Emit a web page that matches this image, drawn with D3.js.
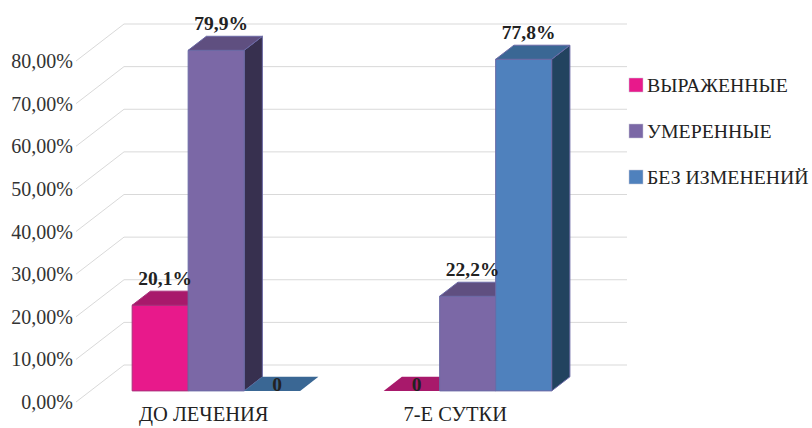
<!DOCTYPE html>
<html>
<head>
<meta charset="utf-8">
<script src="https://cdnjs.cloudflare.com/ajax/libs/d3/7.8.5/d3.min.js"></script>
<style>
  body { margin: 0; background: #fff; }
</style>
</head>
<body>
<svg id="chart" width="812" height="428"></svg>
<script>
// data
var categories = ["ДО ЛЕЧЕНИЯ", "7-Е СУТКИ"];
var seriesNames = ["ВЫРАЖЕННЫЕ", "УМЕРЕННЫЕ", "БЕЗ ИЗМЕНЕНИЙ"];
var vyrazhennye = [20.1, 0];
var umerennye = [79.9, 22.2];
var bezIzmeneniy = [0, 77.8];
var yTicks = [0, 10, 20, 30, 40, 50, 60, 70, 80];

var seriesValues = [vyrazhennye, umerennye, bezIzmeneniy];
var front = ["#e8198b", "#7b68a6", "#4f81bd"];
var top_ = ["#a8196b", "#5f4f80", "#3a6794"];
var side = ["#7a1250", "#37304f", "#22435f"];
var edge = ["#a8307a", "#6b6aa6", "#6b6aa6"];
var FONT = "Liberation Serif, Times New Roman, serif";

var svg = d3.select("#chart");

// 3D frame: front plane and how far the back wall is shifted
var x0 = 76, plotW = 503;
var DX = 48, DY = 37;
var d1 = 0.3, d2 = 0.68; // bar front / back depth

var y = d3.scaleLinear().domain([0, 80]).range([402, 61]);
var x = d3.scaleBand().domain(categories).range([x0, x0 + plotW])
          .paddingInner(0.332).paddingOuter(0.166);
var xs = d3.scaleBand().domain(d3.range(seriesNames.length)).range([0, x.bandwidth()]);

// gridlines: diagonal on the side wall + horizontal on the back wall
var grid = svg.append("g");
yTicks.forEach(function(t) {
  grid.append("line")
      .attr("x1", x0).attr("y1", y(t))
      .attr("x2", x0 + DX).attr("y2", y(t) - DY)
      .attr("stroke", "#d9d9d9").attr("stroke-width", 1);
  grid.append("line")
      .attr("x1", x0 + DX).attr("y1", y(t) - DY)
      .attr("x2", x0 + plotW + DX).attr("y2", y(t) - DY)
      .attr("stroke", "#d9d9d9").attr("stroke-width", 1);
});

// y tick labels
svg.append("g").selectAll("text")
   .data(yTicks).enter().append("text")
   .attr("x", 73).attr("y", function(t) { return y(t); })
   .attr("dy", "0.35em")
   .attr("text-anchor", "end")
   .style("font-family", FONT).attr("font-size", 20).attr("fill", "#333")
   .text(function(t) { return t.toFixed(2).replace(".", ",") + "%"; });

// category labels
svg.append("g").selectAll("text")
   .data(categories).enter().append("text")
   .attr("x", function(c) { return x(c) + x.bandwidth() / 2 + 2; })
   .attr("y", 421)
   .attr("text-anchor", "middle")
   .style("font-family", FONT).attr("font-size", 20.5).attr("fill", "#222")
   .text(function(c) { return c; });

function pts(arr) { return arr.map(function(p) { return p.join(","); }).join(" "); }

var bars = svg.append("g");
var labels = [];
categories.forEach(function(c, ci) {
  seriesValues.forEach(function(vals, si) {
    var v = vals[ci];
    var a = x(c) + xs(si), w = xs.bandwidth();
    var ax = d1 * DX, ay = -d1 * DY, bx = d2 * DX, by = -d2 * DY;
    var yt = y(v), yb = y(0);
    if (v > 0) {
      bars.append("polygon")
          .attr("points", pts([[a + w + ax, yt + ay], [a + w + bx, yt + by], [a + w + bx, yb + by], [a + w + ax, yb + ay]]))
          .attr("fill", side[si]).attr("stroke", edge[si]).attr("stroke-width", 1);
      bars.append("polygon")
          .attr("points", pts([[a + ax, yt + ay], [a + w + ax, yt + ay], [a + w + ax, yb + ay], [a + ax, yb + ay]]))
          .attr("fill", front[si]).attr("stroke", edge[si]).attr("stroke-width", 1);
    }
    bars.append("polygon")
        .attr("points", pts([[a + ax, yt + ay], [a + w + ax, yt + ay], [a + w + bx, yt + by], [a + bx, yt + by]]))
        .attr("fill", top_[si]).attr("stroke", v > 0 ? edge[si] : "none").attr("stroke-width", 1);
    labels.push({
      x: a + ax + w / 2 + 5,
      y: v > 0 ? yt + by - 6 : yt + (ay + by) / 2 + 7,
      t: v > 0 ? v.toFixed(1).replace(".", ",") + "%" : "0"
    });
  });
});

svg.append("g").selectAll("text")
   .data(labels).enter().append("text")
   .attr("x", function(d) { return d.x; })
   .attr("y", function(d) { return d.y; })
   .attr("text-anchor", "middle")
   .style("font-family", FONT).attr("font-size", 19.5).attr("font-weight", "bold").attr("fill", "#222")
   .text(function(d) { return d.t; });

// legend
var legend = svg.append("g").selectAll("g")
   .data(seriesNames).enter().append("g")
   .attr("transform", function(d, i) { return "translate(629," + [85, 131, 177][i] + ")"; });
legend.append("rect")
      .attr("x", 0).attr("y", -7).attr("width", 14).attr("height", 14)
      .attr("fill", function(d, i) { return front[i]; })
      .attr("stroke", "#c8c8d8").attr("stroke-width", 0.5);
legend.append("text")
      .attr("x", 18).attr("dy", "0.35em")
      .style("font-family", FONT).attr("font-size", 19.8).attr("fill", "#222")
      .text(function(d) { return d; });
</script>
</body>
</html>
